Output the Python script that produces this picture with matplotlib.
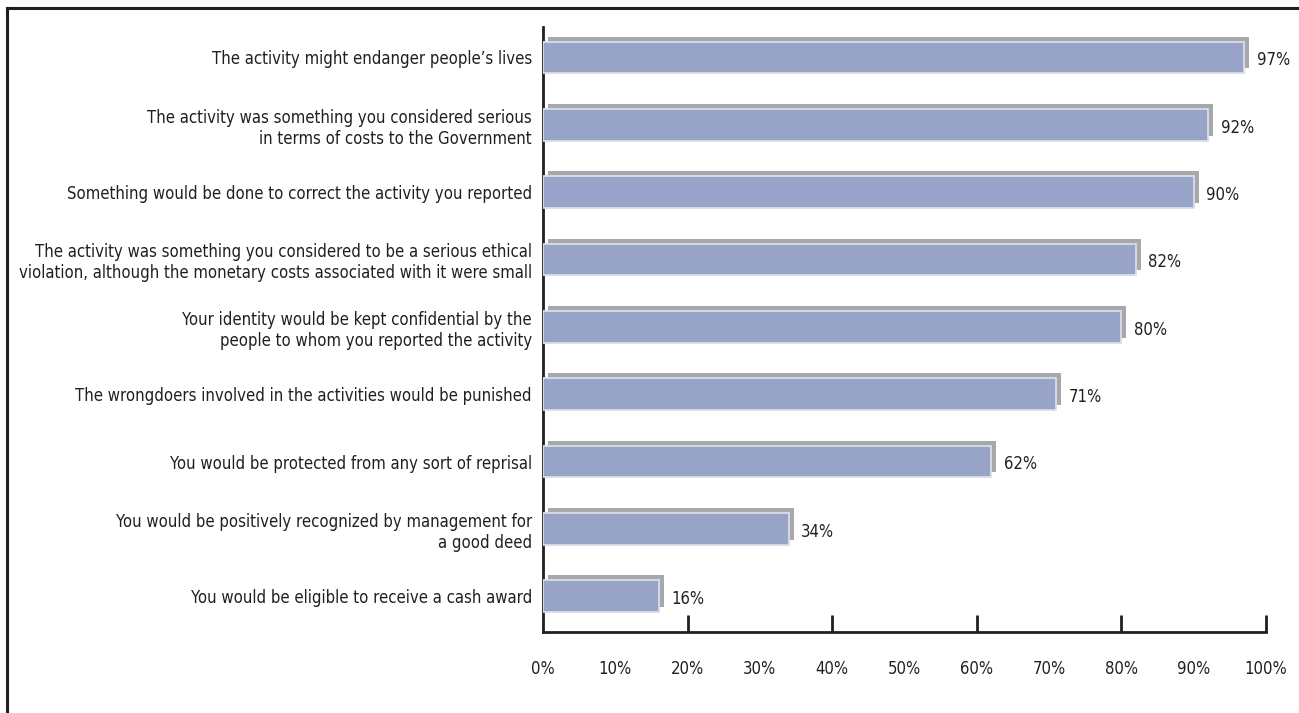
import matplotlib
matplotlib.use("Agg")
import matplotlib.pyplot as plt
import matplotlib.transforms as mtransforms
from matplotlib.lines import Line2D

plt.rcParams['font.family'] = ['DejaVu Sans']
plt.rcParams['font.stretch'] = 'condensed'

labels = [
    "The activity might endanger people\u2019s lives",
    "The activity was something you considered serious\nin terms of costs to the Government",
    "Something would be done to correct the activity you reported",
    "The activity was something you considered to be a serious ethical\nviolation, although the monetary costs associated with it were small",
    "Your identity would be kept confidential by the\npeople to whom you reported the activity",
    "The wrongdoers involved in the activities would be punished",
    "You would be protected from any sort of reprisal",
    "You would be positively recognized by management for\na good deed",
    "You would be eligible to receive a cash award",
]
values = [97, 92, 90, 82, 80, 71, 62, 34, 16]
xticks = list(range(0, 101, 10))
xtick_labels = [f"{t}%" for t in xticks]
tick_marks = [20, 40, 60, 80, 100]

fig = plt.figure(figsize=(12.99, 7.13), dpi=100)
ax = fig.add_axes([0.418, 0.1136, 0.5566, 0.8484])

ypos = list(range(len(values)))
dark = '#231F20'

# gray "3d" shadow shifted up and right
shadow = mtransforms.offset_copy(ax.transData, fig=fig, x=5, y=5, units='dots')
ax.barh(ypos, values, height=0.47, color='#A7A8AB', edgecolor='none',
        transform=shadow, zorder=2)
ax.barh(ypos, values, height=0.47, color='#97A4C8', edgecolor='#DADDE8',
        linewidth=1.3, zorder=3)

for y, v in zip(ypos, values):
    ax.annotate(f"{v}%", (v, y), xytext=(9, -2), textcoords='offset points',
                va='center', ha='left', fontsize=12, color=dark)

ax.set_xlim(0, 100)
ax.set_ylim(8.53, -0.45)
ax.set_yticks(ypos)
ax.set_yticklabels(labels, fontsize=12, color=dark, multialignment='right')
ax.tick_params(axis='y', length=0, pad=8)

ax.xaxis.remove_overlapping_locs = False
ax.set_xticks(xticks)
ax.set_xticklabels(xtick_labels, fontsize=12, color=dark)
ax.tick_params(axis='x', which='major', length=0, pad=20)
ax.set_xticks(tick_marks, minor=True)
ax.tick_params(axis='x', which='minor', direction='in', length=12, width=2, color=dark)

for s in ['top', 'right']:
    ax.spines[s].set_visible(False)
for s in ['left', 'bottom']:
    ax.spines[s].set_linewidth(2)
    ax.spines[s].set_color(dark)

# frame around the figure (top and left edges)
fig.add_artist(Line2D([0.0055, 0.0055], [0, 0.989], transform=fig.transFigure,
                      color=dark, linewidth=2.2))
fig.add_artist(Line2D([0.0055, 1], [0.989, 0.989], transform=fig.transFigure,
                      color=dark, linewidth=2.2))

fig.savefig("out.png", dpi=100)
